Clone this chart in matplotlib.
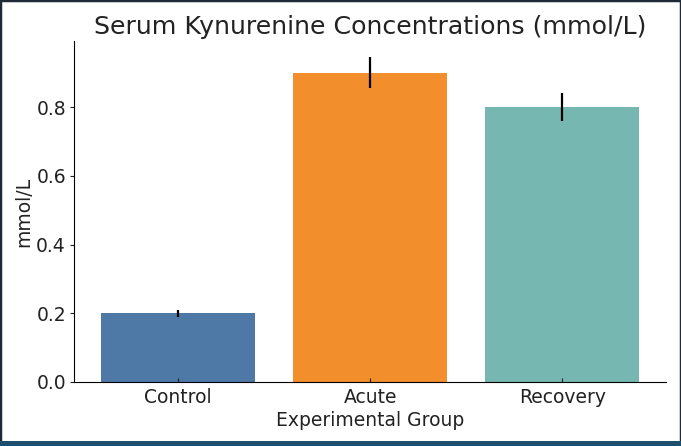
import matplotlib
matplotlib.use("Agg")
from matplotlib import pyplot as plt
from matplotlib.patches import Rectangle

groups = ["Control", "Acute", "Recovery"]
means = [0.2, 0.9, 0.8]
errors = [0.01, 0.045, 0.04]
colors = ["#4e79a7", "#f28e2b", "#76b7b2"]

fig = plt.figure(figsize=(6.81, 4.46), dpi=100)
ax = fig.add_axes([0.109, 0.1435, 0.869, 0.7645])

ax.bar(groups, means, yerr=errors, color=colors, width=0.8,
       error_kw=dict(ecolor="black", elinewidth=1.6, capsize=0))

ax.set_title("Serum Kynurenine Concentrations (mmol/L)", fontsize=18.2, color="#222222", pad=5)
ax.set_xlabel("Experimental Group", fontsize=13.5, color="#222222", labelpad=3)
ax.set_ylabel("mmol/L", fontsize=13.5, color="#222222", labelpad=2)
ax.tick_params(labelsize=13.5, colors="#222222")
ax.tick_params(axis="x", direction="in", length=3, pad=4)
ax.tick_params(axis="y", length=3, pad=3)
ax.set_yticks([0.0, 0.2, 0.4, 0.6, 0.8])
ax.spines["top"].set_visible(False)
ax.spines["right"].set_visible(False)

# dark frame around the picture
fig.patches.append(Rectangle((0, 0), 1, 1, transform=fig.transFigure,
                             fill=False, edgecolor="#1e2a38", linewidth=2.5))
fig.patches.append(Rectangle((0, 0), 1, 5 / 446, transform=fig.transFigure,
                             facecolor="#1d4e6e", edgecolor="none"))

fig.savefig("out.png", dpi=100)
